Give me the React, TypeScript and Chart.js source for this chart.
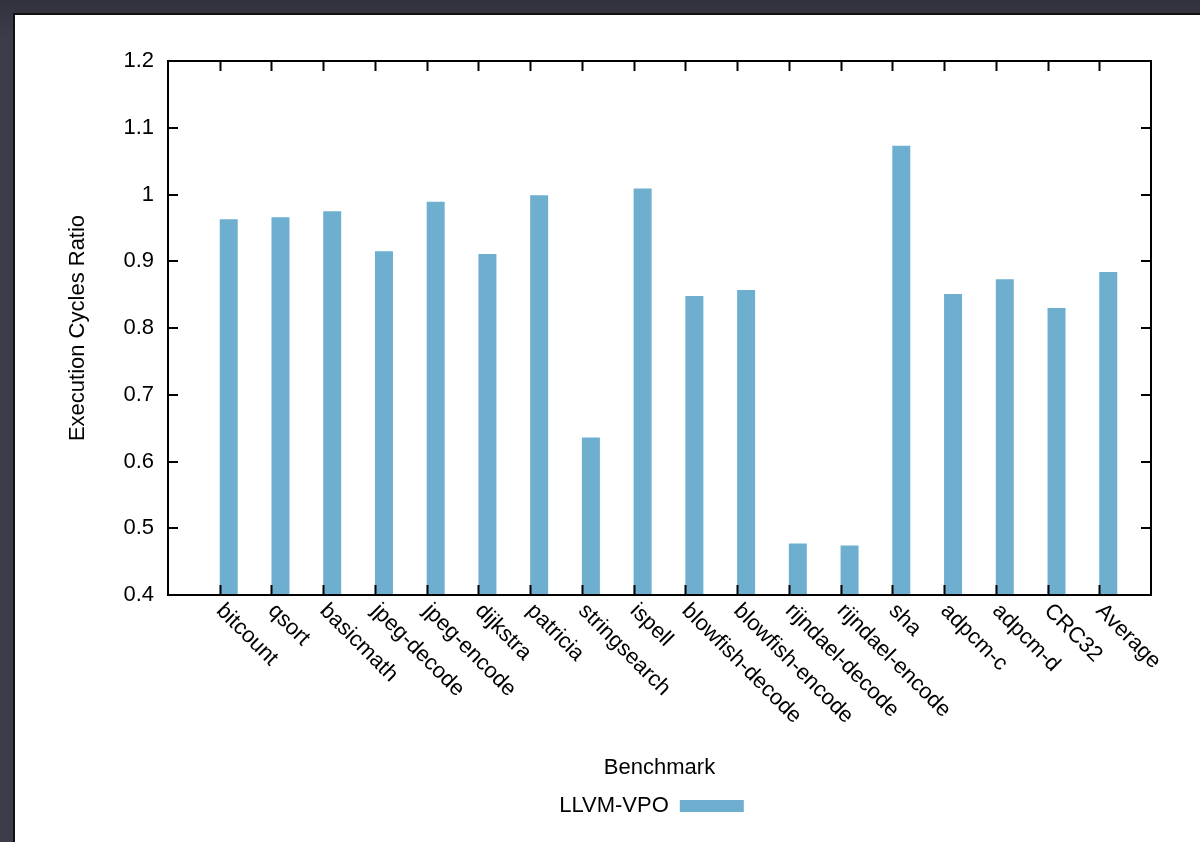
import React, { useEffect, useRef } from 'react';
import { Chart, registerables } from 'chart.js';

Chart.register(...registerables);

const benchmarks = [
  'bitcount', 'qsort', 'basicmath', 'jpeg-decode', 'jpeg-encode', 'dijkstra',
  'patricia', 'stringsearch', 'ispell', 'blowfish-decode', 'blowfish-encode',
  'rijndael-decode', 'rijndael-encode', 'sha', 'adpcm-c', 'adpcm-d', 'CRC32', 'Average',
];

const llvmVpo = [
  0.963, 0.966, 0.975, 0.915, 0.989, 0.911,
  0.999, 0.636, 1.009, 0.848, 0.857,
  0.477, 0.474, 1.073, 0.851, 0.873, 0.830, 0.884,
];

const yMin = 0.4;
const yMax = 1.2;
const yStep = 0.1;

const seriesName = 'LLVM-VPO';
const xTitle = 'Benchmark';
const yTitle = 'Execution Cycles Ratio';

const FONT = '"Liberation Sans", Arial, Helvetica, sans-serif';
const FONT_SIZE = 22;
const BAR_COLOR = '#6eafd0';
const TICK_LEN = 10;
const LEGEND_SHIFT = -8;

// gnuplot-style frame: box border, inward mirrored ticks, rotated x labels
const gnuplotFrame = {
  id: 'gnuplotFrame',
  afterLayout(chart: any) {
    const lg = chart.legend;
    if (lg) {
      lg.left += LEGEND_SHIFT;
      lg.right += LEGEND_SHIFT;
    }
  },
  afterDatasetsDraw(chart: any) {
    const { ctx, chartArea: a, scales } = chart;
    const xs = scales.x;
    const ys = scales.y;
    const labels: string[] = chart.data.labels;
    ctx.save();
    ctx.strokeStyle = '#000';
    ctx.lineWidth = 2;
    ctx.beginPath();
    ys.ticks.forEach((t: any) => {
      const py = Math.round(ys.getPixelForValue(t.value));
      ctx.moveTo(a.left, py);
      ctx.lineTo(a.left + TICK_LEN, py);
      ctx.moveTo(a.right, py);
      ctx.lineTo(a.right - TICK_LEN, py);
    });
    labels.forEach((lab, i) => {
      if (!lab) return;
      const px = Math.round(xs.getPixelForValue(i)) + 0.5;
      ctx.moveTo(px, a.bottom);
      ctx.lineTo(px, a.bottom - TICK_LEN);
      ctx.moveTo(px, a.top);
      ctx.lineTo(px, a.top + TICK_LEN);
    });
    ctx.stroke();
    ctx.strokeRect(a.left, a.top, a.right - a.left, a.bottom - a.top);

    ctx.fillStyle = '#000';
    ctx.font = `${FONT_SIZE}px ${FONT}`;
    ctx.textAlign = 'left';
    ctx.textBaseline = 'middle';
    labels.forEach((lab, i) => {
      if (!lab) return;
      const px = xs.getPixelForValue(i);
      ctx.save();
      ctx.translate(px, a.bottom + 12.5);
      ctx.rotate(Math.PI / 4);
      ctx.fillText(lab, 0, 0);
      ctx.restore();
    });
    ctx.restore();
  },
};

function App() {
  const canvasRef = useRef<HTMLCanvasElement | null>(null);

  useEffect(() => {
    const canvas = canvasRef.current;
    if (!canvas) return;
    // one empty category on each side of the benchmarks (gnuplot x range)
    const labels = ['', ...benchmarks, ''];
    const chart = new Chart(canvas, {
      type: 'bar',
      data: {
        labels,
        datasets: [
          {
            // empty first slot of each cluster (gnuplot clustered histogram layout)
            label: 'cluster-gap',
            data: labels.map(() => null),
            backgroundColor: 'rgba(0,0,0,0)',
          },
          {
            label: seriesName,
            data: [null, ...llvmVpo, null],
            backgroundColor: BAR_COLOR,
            borderWidth: 0,
          },
        ],
      },
      options: {
        responsive: false,
        devicePixelRatio: 1,
        animation: false,
        layout: { padding: { top: 46, right: 49, bottom: 15, left: 0 } },
        datasets: {
          bar: { categoryPercentage: 0.696, barPercentage: 1.0 },
        },
        scales: {
          x: {
            type: 'category',
            offset: false,
            grid: { display: false, drawTicks: false },
            border: { display: false },
            ticks: { display: false },
            title: {
              display: true,
              text: xTitle,
              color: '#000',
              font: { family: FONT, size: FONT_SIZE },
              padding: { top: 0, bottom: 4 },
            },
            afterFit: (scale: any) => {
              scale.height = 190;
            },
          },
          y: {
            min: yMin,
            max: yMax,
            grid: { display: false, drawTicks: false },
            border: { display: false },
            ticks: {
              stepSize: yStep,
              color: '#000',
              padding: 14,
              font: { family: FONT, size: FONT_SIZE },
              callback: (v: any) => String(parseFloat(Number(v).toFixed(2))),
            },
            title: {
              display: true,
              text: yTitle,
              color: '#000',
              font: { family: FONT, size: FONT_SIZE },
              padding: { top: 50, bottom: 0 },
            },
            afterFit: (scale: any) => {
              scale.width = 153;
            },
          },
        },
        plugins: {
          legend: {
            display: true,
            position: 'bottom',
            fullSize: false,
            rtl: true,
            labels: {
              color: '#000',
              font: { family: FONT, size: FONT_SIZE },
              boxWidth: 64,
              boxHeight: 12,
              padding: 10,
              filter: (item: any) => item.datasetIndex === 1,
            },
          },
          tooltip: { enabled: false },
        },
      },
      plugins: [gnuplotFrame],
    });
    return () => chart.destroy();
  }, []);

  return (
    <div
      style={{
        position: 'fixed',
        left: 0,
        top: 0,
        width: 1200,
        height: 842,
        background: 'linear-gradient(#32323c, #3c3d4b 40px)',
        overflow: 'hidden',
      }}
    >
      <div
        style={{
          position: 'absolute',
          left: 13,
          top: 13,
          width: 1187,
          height: 829,
          boxSizing: 'border-box',
          background: '#fff',
          borderLeft: '2px solid #111',
          borderTop: '2px solid #111',
        }}
      >
        <canvas ref={canvasRef} width={1185} height={827} style={{ display: 'block', width: 1185, height: 827 }} />
      </div>
    </div>
  );
}

export default App;
